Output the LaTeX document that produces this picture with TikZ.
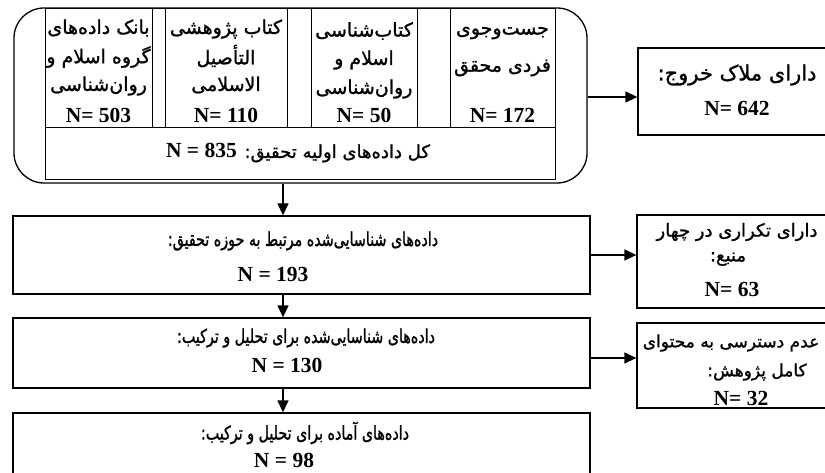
\documentclass[tikz,border=0pt]{standalone}
\usepackage{fontspec}
\setmainfont{Liberation Serif}
\newfontfamily\fa[Script=Arabic,FakeBold=1.2]{DejaVu Sans}
\newfontfamily\fan[Script=Arabic,FakeBold=1.2,FakeStretch=0.75]{DejaVu Sans}
\TeXXeTstate=1
\usetikzlibrary{arrows.meta}
\tikzset{
  box/.style={draw, line width=1.3pt, inner sep=0pt},
  thin/.style={draw, line width=1pt, inner sep=0pt},
  arr/.style={line width=1.3pt, -{Triangle[length=12pt,width=11pt]}},
  colt/.style={font=\fa\fontsize{19}{21}\selectfont, inner sep=0pt},
  rowf/.style={font=\fa\fontsize{18}{20}\selectfont, inner sep=0pt},
  bt/.style={font=\fan\fontsize{19}{21}\selectfont, inner sep=0pt},
  ext/.style={font=\fa\fontsize{18}{20}\selectfont, inner sep=0pt},
  exsm/.style={font=\fa\fontsize{17}{19}\selectfont, inner sep=0pt},
  exbig/.style={font=\fa\fontsize{21}{23}\selectfont, inner sep=0pt},
  num/.style={font=\bfseries\fontsize{21.5}{23}\selectfont, inner sep=0pt},
}
\newcommand{\RTL}[1]{\beginR #1\endR}
\begin{document}
\begin{tikzpicture}[x=1pt,y=-1pt]
\useasboundingbox (0,0) rectangle (825,473);
\clip (0,0) rectangle (825,473);
% top group
\node[box, rounded corners=30pt, minimum width=573pt, minimum height=175pt] (outer) at (300.5,95.5) {};
\node[thin, minimum width=510pt, minimum height=171pt] (inner) at (300,94.5) {};
\node[thin, minimum width=107pt, minimum height=119pt] (c1) at (98.5,68.5) {};
\node[thin, minimum width=122pt, minimum height=119pt] (c2) at (226,68.5) {};
\node[thin, minimum width=106pt, minimum height=119pt] (c3) at (364,68.5) {};
\node[thin, minimum width=105pt, minimum height=119pt] (c4) at (502.5,68.5) {};
\node[thin, minimum width=510pt, minimum height=52pt] (row) at (300,154) {};
% column texts
\node[colt] (c1a) at (98.5,28) {\RTL{بانک داده‌های}};
\node[colt] (c1b) at (98.5,57) {\RTL{گروه اسلام و}};
\node[colt] (c1c) at (98.5,86) {\RTL{روان‌شناسی}};
\node[num] (c1n) at (98.5,115) {N= 503};
\node[colt] (c2a) at (226,29) {\RTL{کتاب پژوهشی}};
\node[colt] (c2b) at (226,56) {\RTL{التأصیل}};
\node[colt] (c2c) at (226,85) {\RTL{الاسلامی}};
\node[num] (c2n) at (226,115) {N= 110};
\node[colt] (c3a) at (364,31) {\RTL{کتاب‌شناسی}};
\node[colt] (c3b) at (364,60) {\RTL{اسلام و}};
\node[colt] (c3c) at (364,89) {\RTL{روان‌شناسی}};
\node[num] (c3n) at (364,115) {N= 50};
\node[colt] (c4a) at (502.5,33) {\RTL{جست‌وجوی}};
\node[colt] (c4b) at (502.5,68) {\RTL{فردی محقق}};
\node[num] (c4n) at (502.5,115) {N= 172};
\node[rowf] (rowt) at (298,153) {\RTL{کل داده‌های اولیه تحقیق: \beginL\bfseries\rmfamily\fontsize{21.5}{23}\selectfont N = 835\endL}};
% exit boxes
\node[box, minimum width=198pt, minimum height=87pt] (ex1) at (737,91.5) {};
\node[exbig] (ex1a) at (737,75) {\RTL{دارای ملاک خروج:}};
\node[num] (ex1n) at (737,108) {N= 642};
\node[box, minimum width=199pt, minimum height=93pt] (ex2) at (736.5,261.5) {};
\node[ext] (ex2a) at (737,232) {\RTL{دارای تکراری در چهار}};
\node[ext] (ex2b) at (728,259) {\RTL{منبع:}};
\node[num] (ex2n) at (732,289) {N= 63};
\node[box, minimum width=199pt, minimum height=85pt] (ex3) at (736.5,365.5) {};
\node[exsm] (ex3a) at (731,343) {\RTL{عدم دسترسی به محتوای}};
\node[exsm] (ex3b) at (757,372) {\RTL{کامل پژوهش:}};
\node[num] (ex3n) at (741,398) {N= 32};
% main chain
\node[box, minimum width=577pt, minimum height=78pt] (b2) at (301.5,255) {};
\node[bt] (b2a) at (303,241) {\RTL{داده‌های شناسایی‌شده مرتبط به حوزه تحقیق:}};
\node[num] (b2n) at (273,274) {N = 193};
\node[box, minimum width=577pt, minimum height=70pt] (b3) at (301.5,353) {};
\node[bt] (b3a) at (306,338) {\RTL{داده‌های شناسایی‌شده برای تحلیل و ترکیب:}};
\node[num] (b3n) at (287,365) {N = 130};
\node[box, minimum width=577pt, minimum height=72pt] (b4) at (301.5,449) {};
\node[bt] (b4a) at (305,433) {\RTL{داده‌های آماده برای تحلیل و ترکیب:}};
\node[num] (b4n) at (284,460) {N = 98};
% connectors
\coordinate (ax) at (283,0);
\coordinate (ay1) at (0,97);
\coordinate (ay2) at (0,255);
\coordinate (ay3) at (0,358);
\draw[arr] (outer.east |- ay1) -- (ex1.west |- ay1);
\draw[arr] (outer.south -| ax) -- (b2.north -| ax);
\draw[arr] (b2.east |- ay2) -- (ex2.west |- ay2);
\draw[arr] (b2.south -| ax) -- (b3.north -| ax);
\draw[arr] (b3.east |- ay3) -- (ex3.west |- ay3);
\draw[arr] (b3.south -| ax) -- (b4.north -| ax);
\end{tikzpicture}
\end{document}
